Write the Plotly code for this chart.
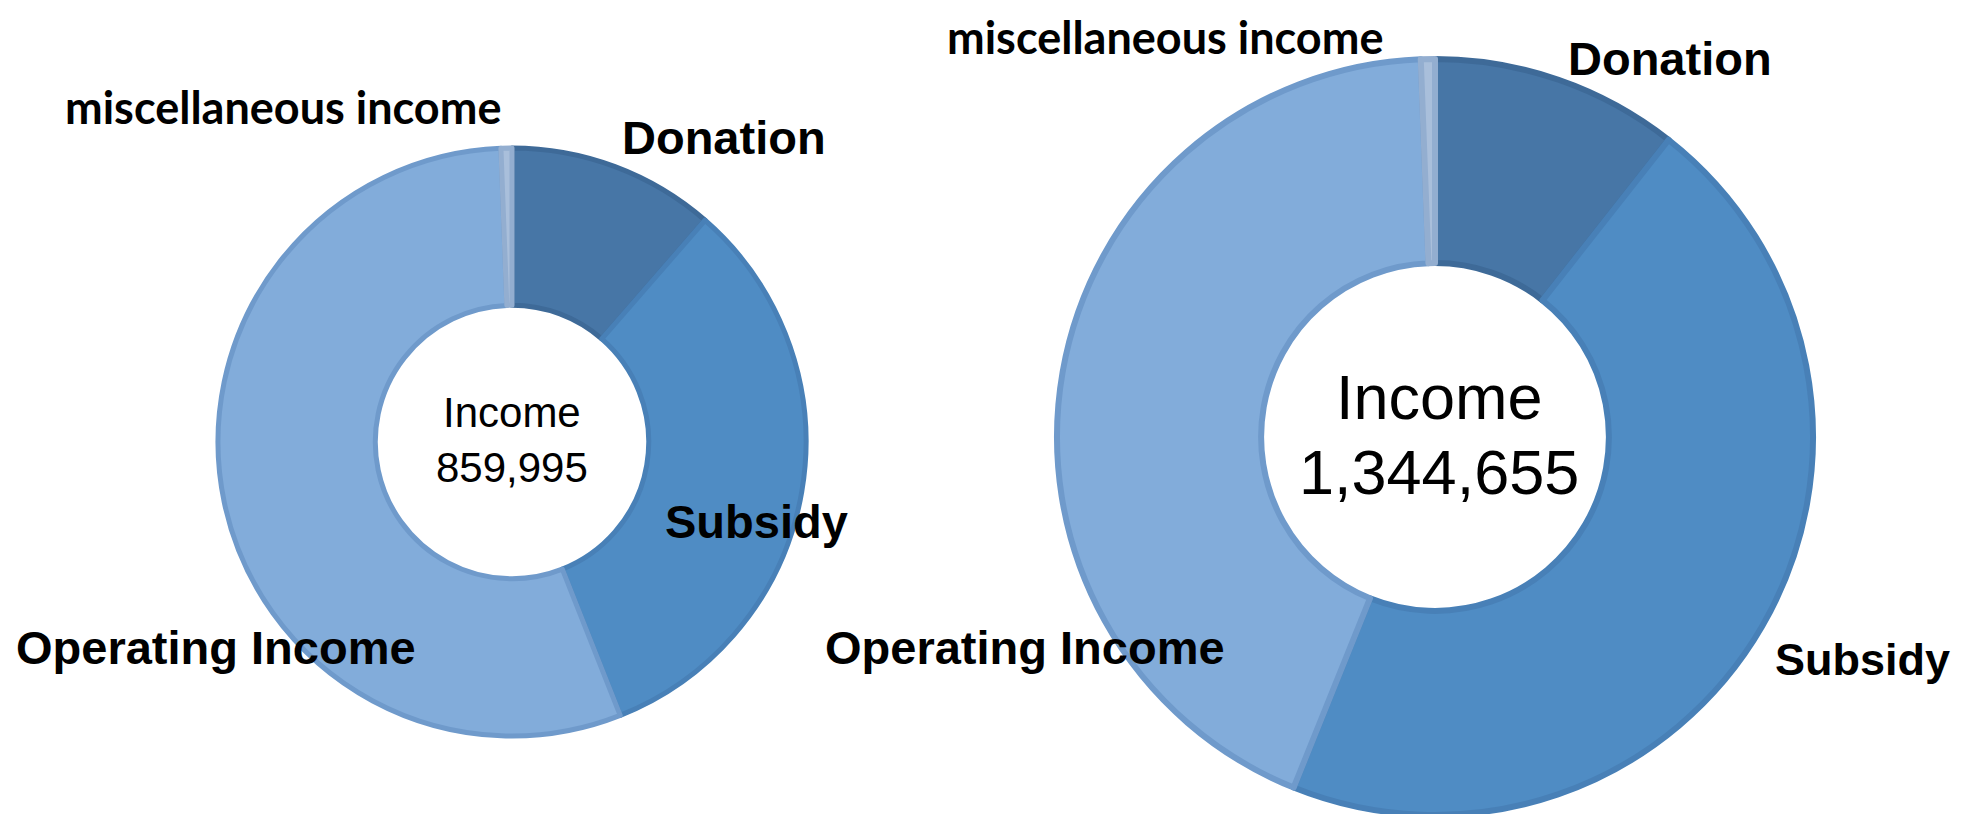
import plotly.graph_objects as go

# ---- data ----
categories = ["Donation", "Subsidy", "Operating Income", "miscellaneous income"]
left_values = [11.4, 32.6, 55.4, 0.6]      # share of 859,995
right_values = [10.6, 45.5, 43.3, 0.6]     # share of 1,344,655
left_total = "859,995"
right_total = "1,344,655"
center_title = "Income"

fill_colors = ["#4776A6", "#4F8CC4", "#82ACDA", "#A9BFDB"]
line_colors = ["#3E6A98", "#4880B7", "#6F9ACB", "#93AED0"]

W, H = 1962, 814

def px_x(x):
    return x / W

def px_y(y):
    return 1 - y / H

fig = go.Figure()

LCX, LCY, LR = 504, 434, 294
RCX, RCY, RR = 1427, 429, 378

fig.add_trace(go.Pie(
    labels=categories, values=left_values, sort=False, direction="clockwise",
    rotation=0, hole=0.465, textinfo="none", hoverinfo="skip", showlegend=False,
    marker=dict(colors=fill_colors, line=dict(color=line_colors, width=5)),
    domain=dict(x=[px_x(LCX - LR), px_x(LCX + LR)], y=[px_y(LCY + LR), px_y(LCY - LR)]),
))

fig.add_trace(go.Pie(
    labels=categories, values=right_values, sort=False, direction="clockwise",
    rotation=0, hole=0.46, textinfo="none", hoverinfo="skip", showlegend=False,
    marker=dict(colors=fill_colors, line=dict(color=line_colors, width=6)),
    domain=dict(x=[px_x(RCX - RR), px_x(RCX + RR)], y=[px_y(RCY + RR), px_y(RCY - RR)]),
))

label_font = dict(family="Liberation Sans, Arial, sans-serif", size=47, color="black")
subsidy_r_font = dict(family="Liberation Sans, Arial, sans-serif", size=45, color="black")
misc_font = dict(family="Lato, Liberation Sans, sans-serif", size=45, color="black")

labels_pos = [
    ("<b>miscellaneous income</b>", 275, 99, misc_font),
    ("<b>Donation</b>", 716, 129, label_font),
    ("<b>Subsidy</b>", 748, 513, label_font),
    ("<b>Operating Income</b>", 208, 639, label_font),
    ("<b>Donation</b>", 1662, 50, label_font),
    ("<b>Subsidy</b>", 1854, 651, subsidy_r_font),
    ("<b>Operating Income</b>", 1017, 639, label_font),
]
for txt, x, y, f in labels_pos:
    fig.add_annotation(text=txt, x=px_x(x), y=px_y(y), xref="paper", yref="paper",
                       xanchor="center", yanchor="middle", showarrow=False, font=f)

# top label of the right donut, anchored to the top edge
fig.add_annotation(text="<b>miscellaneous income</b>", x=px_x(1157), y=1.0, xref="paper", yref="paper",
                   xanchor="center", yanchor="top", showarrow=False, font=misc_font)

center_font_l = dict(family="Liberation Sans, Arial, sans-serif", size=42, color="black")
center_font_r = dict(family="Liberation Sans, Arial, sans-serif", size=63, color="black")
centers = [
    (center_title, LCX, 405, center_font_l),
    (left_total, LCX, 459, center_font_l),
    (center_title, RCX + 4, 389, center_font_r),
    (right_total, RCX + 4, 464, center_font_r),
]
for txt, x, y, f in centers:
    fig.add_annotation(text=txt, x=px_x(x), y=px_y(y), xref="paper", yref="paper",
                       xanchor="center", yanchor="middle", showarrow=False, font=f)

fig.update_layout(
    width=W, height=H,
    margin=dict(l=0, r=0, t=0, b=0),
    paper_bgcolor="white", plot_bgcolor="white",
)

fig.write_html("out.html")
